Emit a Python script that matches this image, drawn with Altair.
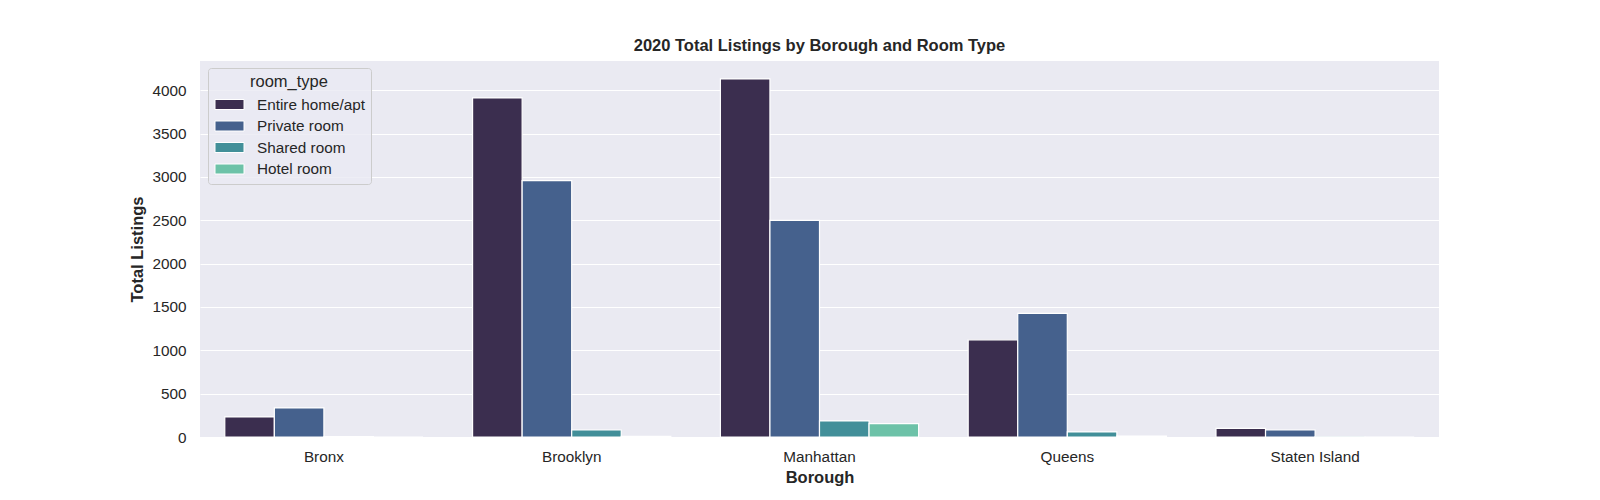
import altair as alt
import pandas as pd

boroughs = ["Bronx", "Brooklyn", "Manhattan", "Queens", "Staten Island"]
room_types = ["Entire home/apt", "Private room", "Shared room", "Hotel room"]
entire_home = [231, 3911, 4130, 1121, 100]
private_room = [335, 2958, 2499, 1427, 81]
shared_room = [6, 81, 185, 58, 3]
hotel_room = [0, 8, 154, 10, 0]
colors = ["#3B2E4F", "#45618D", "#428F99", "#6DC2A8"]
y_ticks = [0, 500, 1000, 1500, 2000, 2500, 3000, 3500, 4000]

rows = []
for series, name in zip([entire_home, private_room, shared_room, hotel_room], room_types):
    for b, v in zip(boroughs, series):
        rows.append({"borough": b, "room_type": name, "listings": v})
df = pd.DataFrame(rows)

FONT = "Liberation Sans"
TXT = "#262626"

chart = alt.Chart(df).mark_bar(stroke="white", strokeWidth=1.2).encode(
    x=alt.X("borough:N", sort=boroughs, title="Borough",
            scale=alt.Scale(paddingInner=0.2, paddingOuter=0.1),
            axis=alt.Axis(labelAngle=0, labelPadding=12.5, titlePadding=5)),
    xOffset=alt.XOffset("room_type:N", sort=room_types,
                        scale=alt.Scale(paddingInner=0, paddingOuter=0)),
    y=alt.Y("listings:Q", title="Total Listings",
            scale=alt.Scale(domain=[0, 4337], nice=False, zero=True),
            axis=alt.Axis(values=y_ticks, format="d", labelPadding=14, titlePadding=6)),
    color=alt.Color("room_type:N", sort=room_types, title="room_type",
                    scale=alt.Scale(domain=room_types, range=colors),
                    legend=alt.Legend(
                        orient="none", legendX=8, legendY=7,
                        symbolType="M-1.45,-0.5L1.45,-0.5L1.45,0.5L-1.45,0.5Z",
                        symbolSize=400, symbolStrokeColor="white", symbolStrokeWidth=1,
                        symbolOffset=5,
                        labelOffset=17, padding=6, rowPadding=2.5,
                        fillColor="rgba(234,234,242,0.8)", strokeColor="#CCCCCC",
                        cornerRadius=3, titleFontWeight="normal", titleFontSize=16.5,
                        titleColor=TXT, titleAnchor="middle", titleAlign="center",
                        labelFontSize=15.3, labelColor=TXT, titlePadding=3.5,
                        labelFont=FONT, titleFont=FONT)),
).properties(
    width=1239, height=376,
    title=alt.TitleParams("2020 Total Listings by Borough and Room Type",
                          font=FONT, fontSize=16.5, fontWeight="bold", color=TXT,
                          anchor="middle", offset=7),
    autosize=alt.AutoSizeParams(type="none"),
    padding={"left": 192, "top": 53, "right": 153, "bottom": 55},
).configure_view(
    fill="#EAEAF2", stroke=None,
).configure_axis(
    grid=True, gridColor="white", gridWidth=1, domain=False, ticks=False,
    labelFont=FONT, labelFontSize=15.3, labelColor=TXT,
    titleFont=FONT, titleFontSize=16.5, titleFontWeight="bold", titleColor=TXT,
).configure_axisX(grid=False)

chart.save("out.html", embed_options={"renderer": "svg", "actions": False})
